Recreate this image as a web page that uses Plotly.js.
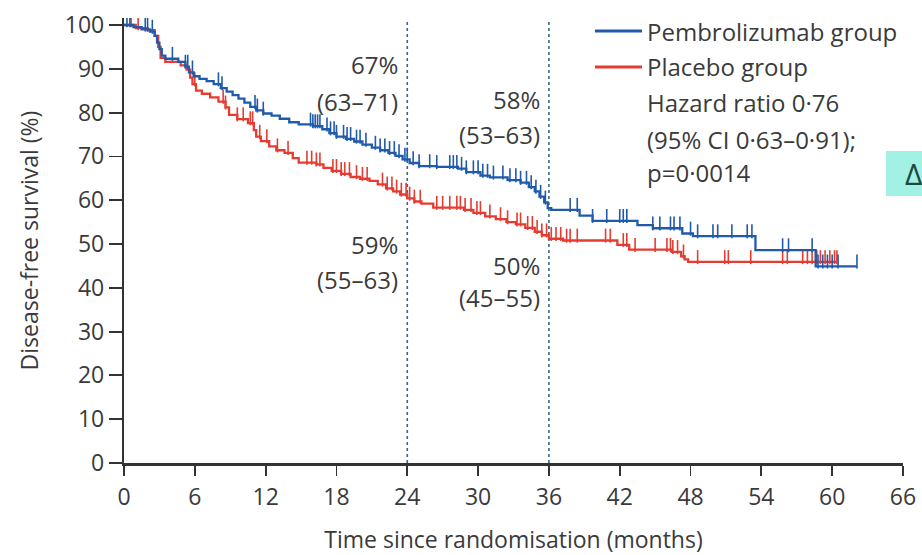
<!DOCTYPE html>
<html><head><meta charset="utf-8">
<script src="https://cdn.plot.ly/plotly-3.0.1.min.js"></script>
<style>html,body{margin:0;padding:0;background:#fff;} #chart{width:922px;height:555px;}</style>
</head><body><div id="chart"></div>
<script>
// Kaplan-Meier step data (months, disease-free survival %)
const pembroTime = [0,0.8,1.5,2.2,2.6,2.8,3.0,3.2,3.5,4.6,5.2,5.5,5.9,6.4,7.0,7.6,8.2,8.7,9.2,9.7,10.2,10.7,11.2,11.8,12.5,13.2,14.0,14.8,16.0,16.8,17.4,18.0,18.8,19.5,20.2,21.0,21.7,22.4,23.0,23.6,24.2,25.0,26.5,28.3,29.0,30.2,31.0,32.5,33.6,34.3,34.8,35.2,35.6,35.9,36.2,38.6,39.7,43.5,44.8,47.3,48.2,53.5,58.6,62.1];
const pembroSurv = [100,99.5,99,98.5,97.5,96,94.5,93,92.3,91.6,90.5,89.2,88.3,87.7,87.2,86.5,85.6,84.8,84,83.2,82.3,81.3,80.5,79.8,79.3,78.6,77.8,77.3,76.9,76.2,75.3,74.5,74,73.4,72.7,72,71.4,70.8,70.1,69.3,68.5,67.8,67.6,67.2,66.4,65.6,65.2,64.6,64,63,62,60.8,59.5,58.2,57.8,56.5,55.3,54.3,53.6,52.4,51.8,48.6,44.9,44.9];
const pembroCensor = [0.25,0.5,1.8,2.0,2.4,4.1,5.2,5.4,5.8,8.0,8.3,11.1,11.3,11.8,15.8,16.0,16.2,16.4,16.6,17.2,17.5,17.8,18.0,18.6,18.9,19.2,19.7,20.0,20.5,21.3,21.7,22.1,22.5,22.9,23.3,23.8,24.0,24.5,25.0,25.9,26.5,27.6,27.9,28.2,28.6,29.0,29.6,30.0,30.4,30.8,31.3,32.1,32.7,33.2,33.6,34.1,34.5,34.9,35.3,35.7,37.8,38.4,39.7,40.9,42.0,42.3,42.6,44.8,45.4,46.3,46.6,47.1,48.0,48.6,49.9,50.3,51.5,52.8,53.2,55.8,56.3,58.3,58.8,59.2,59.6,60.0,60.5,62.1];

const placeboTime = [0,1.0,2.0,2.6,2.9,3.1,3.5,4.8,5.3,5.6,5.8,6.1,6.6,7.3,8.0,8.6,8.9,9.6,10.5,11.0,11.2,11.6,12.3,12.9,13.6,14.3,14.8,16.3,16.9,17.6,18.4,19.2,20.0,20.8,21.5,22.2,22.8,23.4,24.0,24.6,25.2,26.2,28.8,29.6,30.6,31.5,32.4,33.2,34.0,34.8,35.4,36.0,37.2,41.8,42.8,46.4,47.2,47.5,47.8,60.4];
const placeboSurv = [100,99.3,98.8,97.5,95,92.5,91.6,90.8,89.8,88,86.5,85,84.3,83.5,82.5,81.2,79.5,78.5,77.6,76,74.5,73.5,72.3,71.4,70.8,69.6,68.6,68.2,67.4,66.7,66,65.3,64.9,64.4,63.6,62.7,62,61.3,60.4,59.7,59.2,58.3,57.8,57.1,56.3,55.7,55,54.5,53.7,52.8,52,51.2,50.8,49.8,48.7,48.2,47.2,46.5,45.9,45.9];
const placeboCensor = [0.6,1.2,6.0,8.4,8.6,9.6,10.1,10.7,10.9,11.5,12.1,13.0,13.9,15.5,15.9,16.3,16.6,17.7,18.0,18.4,18.7,19.1,19.7,20.2,20.6,21.9,22.3,22.7,23.1,23.5,23.9,24.2,24.6,25.1,26.5,27.0,27.6,28.2,28.5,28.9,29.4,29.9,30.2,31.0,31.9,32.5,33.3,33.6,34.2,34.6,35.0,35.4,35.8,36.2,36.6,37.0,37.5,37.8,38.4,40.8,41.2,42.3,42.6,43.3,45.0,46.0,46.3,46.5,46.9,47.4,48.6,50.9,51.2,53.1,55.8,56.2,57.5,57.9,58.3,58.7,59.0,59.4,59.8,60.2,60.4];

const xTickVals = [0,6,12,18,24,30,36,42,48,54,60,66];
const yTickVals = [0,10,20,30,40,50,60,70,80,90,100];
const landmarkMonths = [24,36];
const groupNames = ["Pembrolizumab group","Placebo group"];
const statsLines = ["Hazard ratio 0·76","(95% CI 0·63–0·91);","p=0·0014"];
const landmarkLabels = [
  {x:24, y:90.9, text:"67%"}, {x:24, y:82.6, text:"(63–71)"},
  {x:36, y:82.9, text:"58%"}, {x:36, y:74.9, text:"(53–63)"},
  {x:24, y:49.8, text:"59%"}, {x:24, y:41.8, text:"(55–63)"},
  {x:36, y:45.2, text:"50%"}, {x:36, y:37.9, text:"(45–55)"}
];

const BLUE = "#1f5aab", RED = "#e63b31", TXT = "#3a3a3a";
const FONT = "'Open Sans', 'Noto Sans', sans-serif";

function survAt(times, survs, t){
  let v = survs[0];
  for (let i=0;i<times.length;i++){ if (times[i] <= t) v = survs[i]; else break; }
  return v;
}
function censorTrace(times, survs, cens, color){
  return {x: cens, y: cens.map(t => survAt(times, survs, t) + 1.1), mode:"markers", type:"scatter",
    showlegend:false, hoverinfo:"skip",
    marker:{symbol:"line-ns", size:10, line:{color:color, width:1.6}}};
}

const traces = [
  {x: placeboTime, y: placeboSurv, mode:"lines", type:"scatter", name: groupNames[1], line:{shape:"hv", color:RED, width:2.3}, showlegend:false},
  censorTrace(placeboTime, placeboSurv, placeboCensor, RED),
  {x: pembroTime, y: pembroSurv, mode:"lines", type:"scatter", name: groupNames[0], line:{shape:"hv", color:BLUE, width:2.3}, showlegend:false},
  censorTrace(pembroTime, pembroSurv, pembroCensor, BLUE)
];

const px2x = px => (px-124)/779;
const py2y = py => (463-py)/445;

const shapes = landmarkMonths.map(m => ({type:"line", xref:"x", yref:"paper", x0:m, x1:m, y0:0, y1:py2y(20),
  line:{color:"#3b6a78", width:1.6, dash:"dot"}, layer:"below"}));
shapes.push({type:"line", xref:"paper", yref:"paper", x0:px2x(595), x1:px2x(642), y0:py2y(31), y1:py2y(31), line:{color:BLUE, width:2.8}});
shapes.push({type:"line", xref:"paper", yref:"paper", x0:px2x(595), x1:px2x(642), y0:py2y(67), y1:py2y(67), line:{color:RED, width:2.8}});
shapes.push({type:"rect", xref:"paper", yref:"paper", x0:px2x(886), x1:px2x(930), y0:py2y(196), y1:py2y(151), fillcolor:"#a2f1e5", line:{width:0}});

const annotations = landmarkLabels.map(a => ({x:a.x, y:a.y, xref:"x", yref:"y", text:a.text, showarrow:false,
  xanchor:"right", yanchor:"middle", xshift:-7, font:{family:FONT, size:24, color:TXT}}));
const legendTexts = [groupNames[0], groupNames[1]].concat(statsLines);
const legendY = [32, 67, 102, 139, 173];
legendTexts.forEach((t,i) => annotations.push({xref:"paper", yref:"paper", x:px2x(645), y:py2y(legendY[i]), text:t,
  showarrow:false, xanchor:"left", yanchor:"middle", font:{family:FONT, size:24, color:TXT}}));
annotations.push({xref:"paper", yref:"paper", x:px2x(903), y:py2y(174), text:"Δ", showarrow:false, xanchor:"left", yanchor:"middle",
  font:{family:FONT, size:30, color:"#1b4a40"}});

const layout = {
  width:922, height:555,
  margin:{l:124, r:19, t:18, b:92},
  paper_bgcolor:"#fff", plot_bgcolor:"#fff",
  showlegend:false,
  font:{family:FONT, color:TXT},
  xaxis:{range:[0,66], tickvals:xTickVals, ticktext:xTickVals.map(String), ticks:"outside", ticklen:10, tickwidth:1.8, tickcolor:"#333",
    showline:true, linecolor:"#333", linewidth:3, showgrid:false, zeroline:false, tickfont:{size:23, color:TXT},
    ticklabelstandoff:1,
    title:{text:"Time since randomisation (months)", font:{size:23, color:TXT}, standoff:26}},
  yaxis:{range:[0,101.6], tickvals:yTickVals, ticktext:yTickVals.map(String), ticks:"outside", ticklen:13, tickwidth:1.8, tickcolor:"#333",
    showline:true, linecolor:"#333", linewidth:2.2, showgrid:false, zeroline:false, tickfont:{size:23, color:TXT},
    title:{text:"Disease-free survival (%)", font:{size:23, color:TXT}, standoff:20}},
  shapes: shapes,
  annotations: annotations
};
Plotly.newPlot("chart", traces, layout, {displayModeBar:false, staticPlot:true});
</script>
</body></html>
